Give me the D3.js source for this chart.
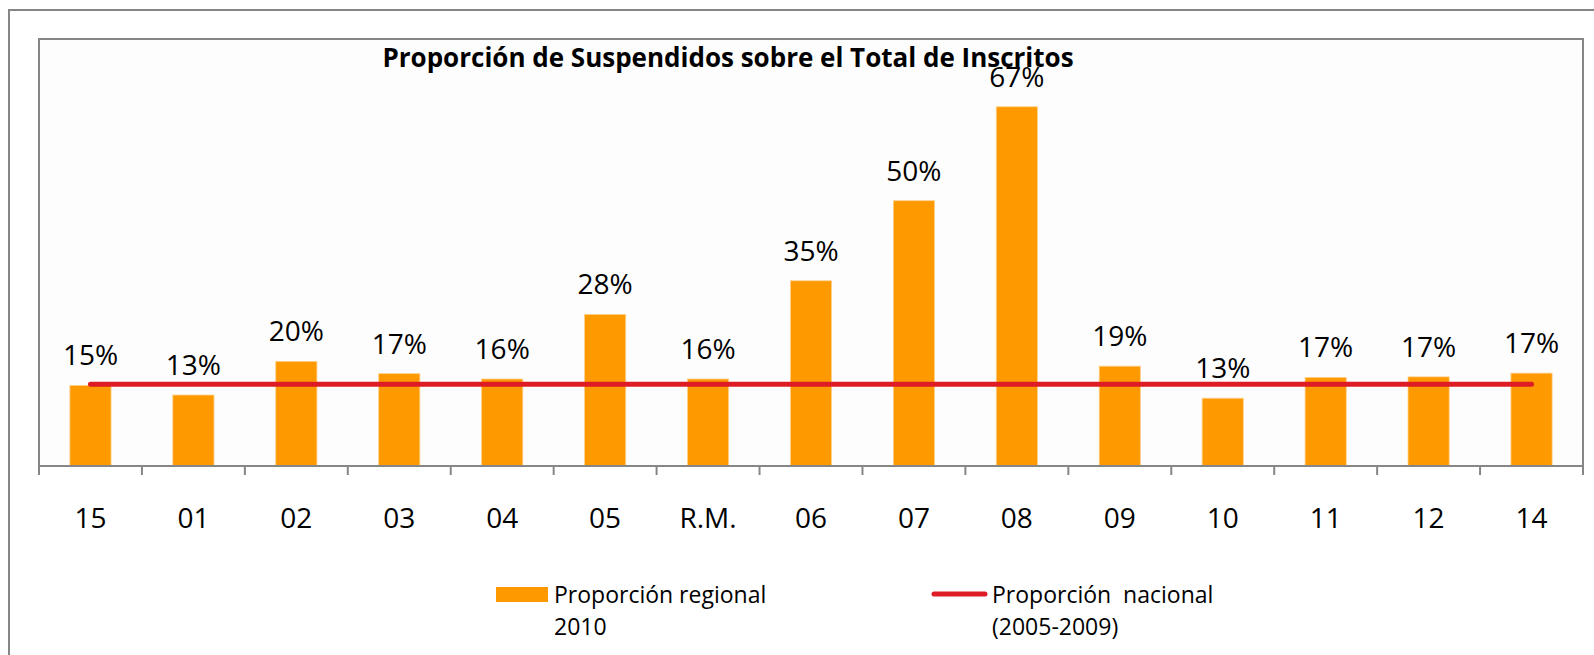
<!DOCTYPE html>
<html>
<head>
<meta charset="utf-8">
<script src="https://cdn.jsdelivr.net/npm/d3@7"></script>
<style>
  body { margin: 0; background: #fff; }
  svg { display: block; font-family: "Open Sans", sans-serif; }
</style>
</head>
<body>
<div id="chart"></div>
<script>
// --- data ---
const regions = ["15", "01", "02", "03", "04", "05", "R.M.", "06", "07", "08", "09", "10", "11", "12", "14"];
const regional2010 = [0.151, 0.133, 0.196, 0.173, 0.163, 0.284, 0.163, 0.347, 0.497, 0.673, 0.187, 0.127, 0.166, 0.167, 0.174];
const nacional = [0.153, 0.153, 0.153, 0.153, 0.153, 0.153, 0.153, 0.153, 0.153, 0.153, 0.153, 0.153, 0.153, 0.153, 0.153];
const legendLabels = [["Proporción regional", "2010"], ["Proporción  nacional", "(2005-2009)"]];
const chartTitle = "Proporción de Suspendidos sobre el Total de Inscritos";

const W = 1594, H = 655;
const plot = { left: 39, top: 39, right: 1583, bottom: 466 };
const ORANGE = "#ff9900", RED = "#dd1c26", GRAY = "#868686";

const svg = d3.select("#chart").append("svg")
    .attr("width", W)
    .attr("height", H);

// outer chart frame (runs off the right and bottom edges)
svg.append("path")
    .attr("d", `M9,${H + 5}V10H${W + 5}`)
    .attr("fill", "none")
    .attr("stroke", GRAY)
    .attr("stroke-width", 2);

// plot area
svg.append("rect")
    .attr("x", plot.left).attr("y", plot.top)
    .attr("width", plot.right - plot.left)
    .attr("height", plot.bottom - plot.top)
    .attr("fill", "#fdfdfd");
svg.append("path")
    .attr("d", `M${plot.left},${plot.bottom}V${plot.top}H${plot.right}V${plot.bottom}`)
    .attr("fill", "none")
    .attr("stroke", GRAY)
    .attr("stroke-width", 2);

const x = d3.scaleBand()
    .domain(regions)
    .range([plot.left, plot.right])
    .paddingInner(0.6)
    .paddingOuter(0.3);

const y = d3.scaleLinear()
    .domain([0, 0.8])
    .range([plot.bottom, plot.top]);

const fmt = d3.format(".0%");
const data = regions.map((r, i) => ({ region: r, value: regional2010[i], nat: nacional[i] }));

// bars
svg.append("g").selectAll("rect")
    .data(data)
    .join("rect")
    .attr("x", d => x(d.region))
    .attr("y", d => y(d.value))
    .attr("width", x.bandwidth())
    .attr("height", d => y(0) - y(d.value))
    .attr("fill", ORANGE)
    .attr("stroke", "#ffd08a")
    .attr("stroke-width", 0.8);

// national line
const line = d3.line()
    .x(d => x(d.region) + x.bandwidth() / 2)
    .y(d => y(d.nat));
svg.append("path")
    .datum(data)
    .attr("d", line)
    .attr("fill", "none")
    .attr("stroke", RED)
    .attr("stroke-width", 5)
    .attr("stroke-linecap", "round");

// value labels
svg.append("g").selectAll("text")
    .data(data)
    .join("text")
    .attr("x", d => x(d.region) + x.bandwidth() / 2)
    .attr("y", d => y(d.value) - 20)
    .attr("text-anchor", "middle")
    .attr("font-size", 28)
    .attr("fill", "#000")
    .text(d => fmt(d.value));

// x axis: ticks between categories
const step = x.step();
const tickPos = d3.range(regions.length + 1).map(i => plot.left + i * step);
svg.append("path")
    .attr("d", `M${plot.left},${plot.bottom}H${plot.right}`)
    .attr("stroke", GRAY)
    .attr("stroke-width", 2);
svg.append("g").selectAll("line")
    .data(tickPos)
    .join("line")
    .attr("x1", d => d).attr("x2", d => d)
    .attr("y1", plot.bottom).attr("y2", plot.bottom + 9)
    .attr("stroke", GRAY)
    .attr("stroke-width", 2);

svg.append("g").selectAll("text")
    .data(regions)
    .join("text")
    .attr("x", d => x(d) + x.bandwidth() / 2)
    .attr("y", 528)
    .attr("text-anchor", "middle")
    .attr("font-size", 28)
    .text(d => d);

// title
svg.append("text")
    .attr("x", 728)
    .attr("y", 67)
    .attr("text-anchor", "middle")
    .attr("font-size", 26)
    .attr("font-weight", "bold")
    .text(chartTitle);

// legend
const lg = svg.append("g").attr("font-size", 23);

lg.append("rect")
    .attr("x", 496).attr("y", 587)
    .attr("width", 52).attr("height", 15)
    .attr("fill", ORANGE);
const t1 = lg.append("text").attr("x", 554).attr("y", 603);
t1.selectAll("tspan").data(legendLabels[0]).join("tspan")
    .attr("x", 554)
    .attr("dy", (d, i) => i ? 32 : 0)
    .text(d => d);

lg.append("line")
    .attr("x1", 934).attr("x2", 985)
    .attr("y1", 594).attr("y2", 594)
    .attr("stroke", RED)
    .attr("stroke-width", 5)
    .attr("stroke-linecap", "round");
const t2 = lg.append("text").attr("x", 992).attr("y", 603).attr("xml:space", "preserve");
t2.selectAll("tspan").data(legendLabels[1]).join("tspan")
    .attr("x", 992)
    .attr("dy", (d, i) => i ? 32 : 0)
    .style("white-space", "pre")
    .text(d => d);
</script>
</body>
</html>
